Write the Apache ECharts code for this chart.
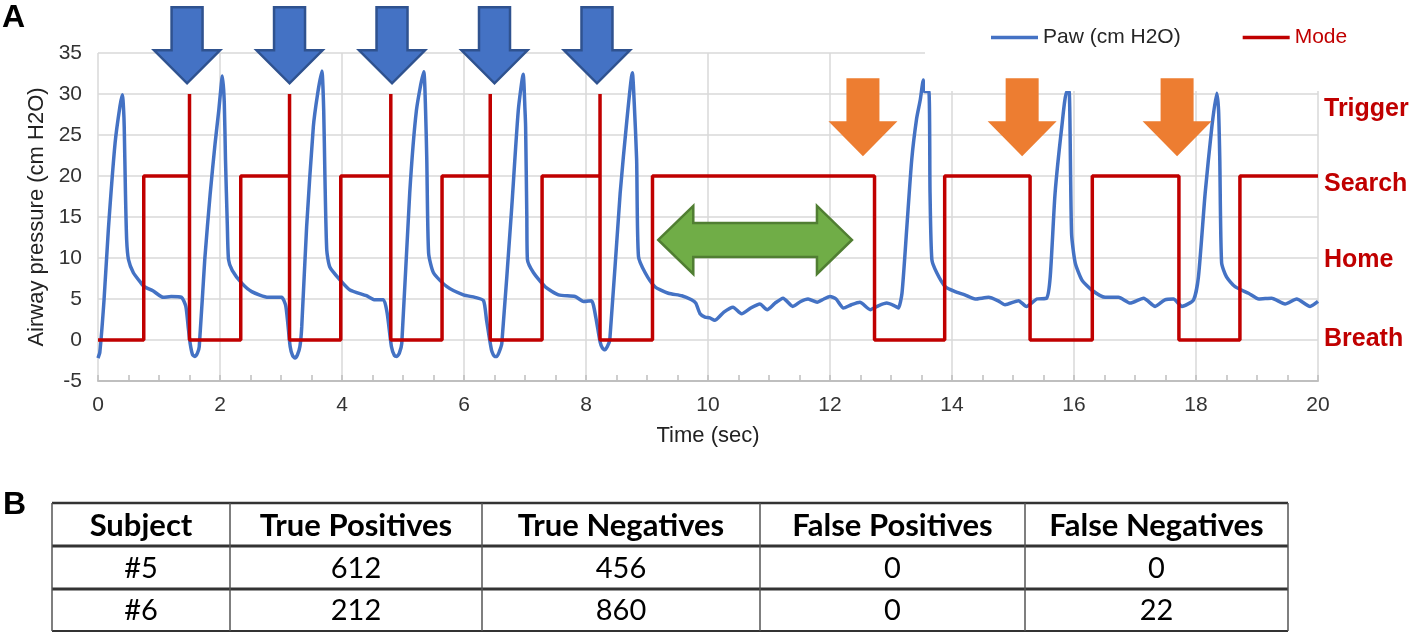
<!DOCTYPE html>
<html>
<head>
<meta charset="utf-8">
<script src="https://cdn.jsdelivr.net/npm/echarts@6/dist/echarts.min.js"></script>
<style>
html,body{margin:0;padding:0;background:#fff;}
#chart{width:1416px;height:634px;}
</style>
</head>
<body>
<div id="chart"></div>
<script>
// ---------- DATA ----------
const pawTime = [0,0.03,0.1,0.17,0.28,0.36,0.40,0.42,0.43,0.45,0.47,0.50,0.58,0.7,0.76,0.9,1.07,1.2,1.37,1.44,1.48,1.51,1.55,1.59,1.63,1.66,1.75,1.84,1.92,1.98,2.04,2.07,2.09,2.12,2.14,2.20,2.36,2.52,2.79,3.01,3.08,3.15,3.19,3.23,3.27,3.31,3.34,3.42,3.53,3.60,3.67,3.70,3.72,3.75,3.80,3.97,4.13,4.40,4.54,4.68,4.74,4.81,4.86,4.90,4.94,4.98,5.11,5.22,5.34,5.37,5.39,5.42,5.50,5.72,5.99,6.18,6.32,6.37,6.45,6.50,6.54,6.58,6.62,6.78,6.89,6.97,7.00,7.01,7.03,7.04,7.14,7.33,7.55,7.82,7.96,8.09,8.16,8.23,8.27,8.31,8.35,8.39,8.56,8.67,8.76,8.79,8.83,8.86,8.97,9.13,9.35,9.57,9.73,9.80,9.87,9.95,10.03,10.11,10.26,10.41,10.55,10.70,10.85,10.97,11.10,11.23,11.39,11.52,11.64,11.79,11.90,12.0,12.10,12.22,12.35,12.49,12.66,12.80,12.93,13.05,13.12,13.18,13.26,13.34,13.42,13.48,13.53,13.55,13.62,13.64,13.67,13.75,13.89,14.05,14.21,14.38,14.60,14.75,14.87,15.09,15.22,15.39,15.55,15.61,15.69,15.80,15.88,15.92,15.96,16.02,16.13,16.29,16.51,16.73,16.92,17.14,17.33,17.49,17.63,17.77,17.96,18.04,18.15,18.26,18.34,18.37,18.39,18.42,18.50,18.64,18.86,19.03,19.24,19.46,19.65,19.87,20.0];
const pawValue = [-2.2,-1.5,5,13.5,24,28.5,29.9,28,26,18,12.2,9.8,8.2,7,6.5,6.0,5.2,5.3,5.2,4.1,1.5,-0.4,-1.8,-2.0,-1.6,-0.8,9.8,17.9,24,28,32.2,29,22,14,9.8,8.5,6.9,5.9,5.2,5.2,4.1,-0.8,-1.9,-2.2,-1.8,-0.8,1.6,13.8,26,30,32.8,28,20,11,8.9,7.3,6.1,5.4,4.9,4.9,3.3,-0.8,-1.9,-2.0,-1.6,-0.4,17.9,28,32.7,28,22,10.6,8.2,6.5,5.5,5.2,4.8,2.4,-1.2,-2.0,-2.0,-1.4,-0.4,15.9,28,32.4,28,26,15,9.8,8.2,6.5,5.5,5.3,4.7,4.8,2.8,-0.2,-1.0,-1.2,-0.8,0.0,17.9,26.8,32.6,29,22,10.2,8.2,6.5,5.7,5.4,4.9,4.5,3.2,2.8,2.7,2.4,3.4,4.0,3.2,3.9,4.4,3.7,4.5,5.1,4.1,4.7,5.0,4.6,5.0,5.3,5.0,3.9,4.3,4.6,3.7,4.2,4.5,4.2,3.9,5.7,13.8,22,27,29.3,31.7,30.3,30.3,17.9,9.8,8.2,6.5,5.9,5.5,5.0,5.2,4.8,4.3,4.8,4.1,5.0,5.1,7.7,17.9,26,30.3,30.3,13,9.4,7.3,6.1,5.2,5.2,4.5,5.1,4.1,4.9,5.0,4.1,4.9,7.7,17.9,26,30.1,28,22,9.4,7.7,6.5,5.7,5.0,5.1,4.4,5.0,4.1,4.7];

const modeTime  = [0,0.75,0.75,1.50,1.50,1.50,2.34,2.34,3.14,3.14,3.14,3.98,3.98,4.80,4.80,4.80,5.64,5.64,6.43,6.43,6.43,7.28,7.28,8.23,8.23,8.23,9.09,9.09,12.73,12.73,13.88,13.88,15.28,15.28,16.30,16.30,17.72,17.72,18.72,18.72,20];
const modeValue = [0,0,20,20,30,0,0,20,20,30,0,0,20,20,30,0,0,20,20,30,0,0,20,20,30,0,0,20,20,0,0,20,20,0,0,20,20,0,0,20,20];

const seriesNames = ['Paw (cm H2O)', 'Mode'];
const stateLabels = ['Trigger', 'Search', 'Home', 'Breath'];
const stateLabelValues = [28.2, 19.0, 9.7, 0.1];

const blueArrowTimes = [1.46, 3.14, 4.82, 6.50, 8.18];
const blueArrowTipValue = 31.3;
const orangeArrowTimes = [12.54, 15.15, 17.69];
const orangeArrowTipValue = 22.4;
const greenArrowStart = 9.185;
const greenArrowEnd = 12.36;
const greenArrowValue = 12.2;

const tableHeader = ['Subject', 'True Positives', 'True Negatives', 'False Positives', 'False Negatives'];
const tableSubjects = ['#5', '#6'];
const truePositives = [612, 212];
const trueNegatives = [456, 860];
const falsePositives = [0, 0];
const falseNegatives = [0, 22];

// ---------- CHART ----------
const FONT = '"Liberation Sans", Arial, sans-serif';
const chart = echarts.init(document.getElementById('chart'));
const pawData = pawTime.map((t, i) => [t, pawValue[i]]);
const modeData = modeTime.map((t, i) => [t, modeValue[i]]);

const option = {
  animation: false,
  backgroundColor: '#fff',
  textStyle: { fontFamily: FONT },
  grid: { left: 98, right: 98, top: 53, bottom: 253 },
  legend: {
    left: 925, top: 0, width: 480, orient: 'horizontal',
    padding: [27, 80, 43, 66],
    backgroundColor: '#fff',
    icon: 'rect',
    itemWidth: 47, itemHeight: 3.5, itemGap: 62,
    textStyle: { fontSize: 21, fontFamily: FONT, lineHeight: 20 },
    data: [
      { name: seriesNames[0], textStyle: { color: '#262626' } },
      { name: seriesNames[1], textStyle: { color: '#C00000' } }
    ],
    z: 5
  },
  xAxis: {
    type: 'value', min: 0, max: 20, interval: 2,
    name: 'Time (sec)', nameLocation: 'middle', nameGap: 44,
    nameTextStyle: { fontSize: 22, color: '#222', fontFamily: FONT },
    axisLine: { onZero: false, lineStyle: { color: '#bfbfbf', width: 2 } },
    axisTick: { show: true, inside: true, length: 6, lineStyle: { color: '#bfbfbf', width: 1.5 } },
    minorTick: { show: true, splitNumber: 4, length: 6, lineStyle: { color: '#bfbfbf', width: 1.5 } },
    axisLabel: { fontSize: 21, color: '#333', margin: 14, fontFamily: FONT },
    splitLine: { show: true, lineStyle: { color: '#d9d9d9', width: 1.5 } }
  },
  yAxis: {
    type: 'value', min: -5, max: 35, interval: 5,
    name: 'Airway pressure (cm H2O)', nameLocation: 'middle', nameGap: 46,
    nameTextStyle: { fontSize: 22, color: '#222', fontFamily: FONT },
    axisLine: { show: false }, axisTick: { show: false },
    axisLabel: { fontSize: 21, color: '#333', margin: 16, fontFamily: FONT },
    splitLine: { show: true, lineStyle: { color: '#d9d9d9', width: 1.5 } }
  },
  series: [
    {
      name: seriesNames[0], type: 'line', data: pawData,
      showSymbol: false, symbol: 'none',
      smooth: 0.2,
      lineStyle: { color: '#4472C4', width: 3.5 },
      itemStyle: { color: '#4472C4' },
      z: 2
    },
    {
      name: seriesNames[1], type: 'line', data: modeData,
      showSymbol: false, symbol: 'none',
      lineStyle: { color: '#C00000', width: 3.5, join: 'bevel' },
      itemStyle: { color: '#C00000' },
      z: 3
    }
  ]
};
chart.setOption(option);

// ---------- ANNOTATIONS (anchored to data coords) ----------
function px(t, v) { return chart.convertToPixel({ gridIndex: 0 }, [t, v]); }
function downArrow(tip, H, W, S, Hh) {
  const x = tip[0], y = tip[1];
  return [[x - S/2, y - H], [x + S/2, y - H], [x + S/2, y - Hh], [x + W/2, y - Hh],
          [x, y], [x - W/2, y - Hh], [x - S/2, y - Hh]];
}
const graphics = [];
blueArrowTimes.forEach(t => {
  graphics.push({ type: 'polygon', z: 10,
    shape: { points: downArrow(px(t, blueArrowTipValue), 76, 66, 31, 33) },
    style: { fill: '#4472C4', stroke: '#2F528F', lineWidth: 2.5 } });
});
orangeArrowTimes.forEach(t => {
  graphics.push({ type: 'polygon', z: 10,
    shape: { points: downArrow(px(t, orangeArrowTipValue), 78, 69, 33, 35) },
    style: { fill: '#ED7D31' } });
});
{
  const l = px(greenArrowStart, greenArrowValue), r = px(greenArrowEnd, greenArrowValue);
  const yc = l[1], L = 35, hh = 34, sh = 17;
  graphics.push({ type: 'polygon', z: 10,
    shape: { points: [[l[0], yc], [l[0]+L, yc-hh], [l[0]+L, yc-sh], [r[0]-L, yc-sh], [r[0]-L, yc-hh],
                      [r[0], yc], [r[0]-L, yc+hh], [r[0]-L, yc+sh], [l[0]+L, yc+sh], [l[0]+L, yc+hh]] },
    style: { fill: '#70AD47', stroke: '#507E32', lineWidth: 2.5 } });
}
stateLabels.forEach((s, i) => {
  const p = px(20, stateLabelValues[i]);
  graphics.push({ type: 'text', z: 10,
    style: { x: p[0] + 6, y: p[1], text: s, fill: '#C00000',
             font: 'bold 25px ' + FONT, textAlign: 'left', textVerticalAlign: 'middle' } });
});
// Panel letters
graphics.push({ type: 'text', z: 10, style: { x: 2, y: 18, text: 'A', fill: '#000', font: 'bold 32px ' + FONT, textVerticalAlign: 'middle' } });
graphics.push({ type: 'text', z: 10, style: { x: 3, y: 505, text: 'B', fill: '#000', font: 'bold 32px ' + FONT, textVerticalAlign: 'middle' } });

// ---------- TABLE (panel B) ----------
const TFONT = 'Lato, "Open Sans", sans-serif';
const colEdges = [52, 230, 482, 760, 1025, 1288];
const rowEdges = [503, 546, 589, 631];
const rows = [tableHeader].concat(tableSubjects.map((s, i) =>
  [s, truePositives[i], trueNegatives[i], falsePositives[i], falseNegatives[i]].map(String)));
rows.forEach((row, r) => {
  row.forEach((txt, c) => {
    graphics.push({ type: 'text', z: 10,
      style: { x: (colEdges[c] + colEdges[c+1]) / 2, y: (rowEdges[r] + rowEdges[r+1]) / 2 + 1,
               text: txt, fill: '#000', textAlign: 'center', textVerticalAlign: 'middle',
               font: (r === 0 ? 'bold 31px ' : '29px ') + TFONT } });
  });
});
const hWidths = [2.5, 3, 3, 2];
rowEdges.forEach((y, i) => {
  graphics.push({ type: 'line', z: 11, shape: { x1: colEdges[0], y1: y, x2: colEdges[colEdges.length-1], y2: y },
    style: { stroke: '#333', lineWidth: hWidths[i] } });
});
colEdges.forEach(x => {
  graphics.push({ type: 'line', z: 11, shape: { x1: x, y1: rowEdges[0], x2: x, y2: rowEdges[rowEdges.length-1] },
    style: { stroke: '#555', lineWidth: 1.5 } });
});
chart.setOption({ graphic: graphics });
</script>
</body>
</html>
